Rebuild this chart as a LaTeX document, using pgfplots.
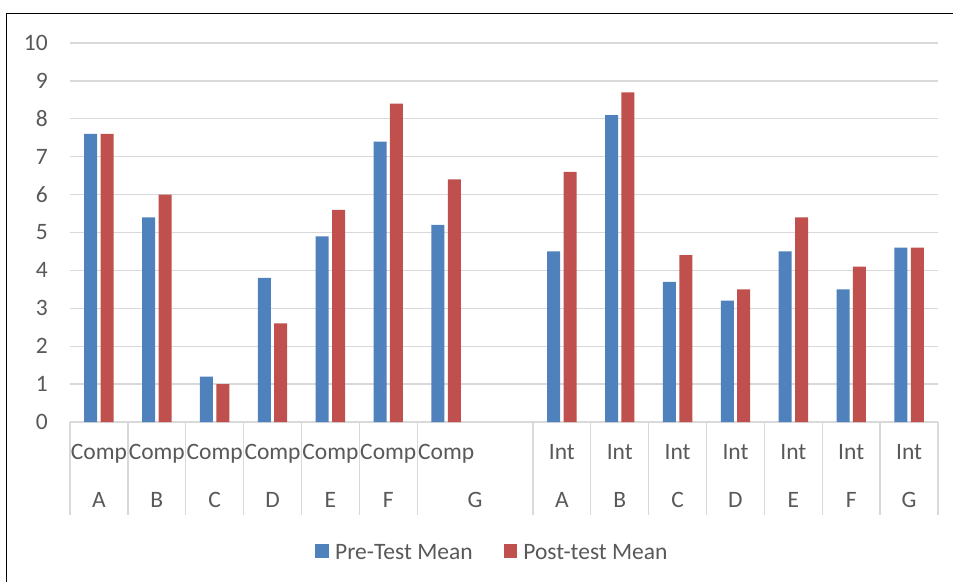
\documentclass[border=0pt]{standalone}
\usepackage{pgfplots}
\pgfplotsset{compat=1.18}
\usepackage{fontspec}
\setmainfont{Carlito}
\definecolor{preblue}{RGB}{79,129,189}
\definecolor{postred}{RGB}{192,80,77}
\definecolor{txt}{RGB}{89,89,89}
\definecolor{gridc}{RGB}{217,217,217}
\begin{document}
\begin{tikzpicture}
\clip (0pt,0pt) rectangle (953pt,581pt);
\fill[white] (0pt,0pt) rectangle (953pt,581pt);
\draw[black, line width=1.7pt] (6.5pt,-5pt) -- (6.5pt,567.5pt) -- (960pt,567.5pt);
\begin{axis}[
  at={(70pt,159pt)}, anchor=south west,
  scale only axis, width=868pt, height=379pt,
  xmin=-0.5, xmax=14.5, ymin=0, ymax=10,
  ybar=3.4pt, bar width=13pt,
  clip=false,
  axis line style={draw=none},
  major tick length=0pt,
  ytick={0,1,...,10},
  ymajorgrids, grid style={gridc, line width=1.3pt},
  xtick={0,1,2,3,4,5,6,8,9,10,11,12,13,14},
  xticklabels={Comp,Comp,Comp,Comp,Comp,Comp,Comp,Int,Int,Int,Int,Int,Int,Int},
  extra x ticks={0,1,2,3,4,5,6.5,8,9,10,11,12,13,14},
  extra x tick labels={A,B,C,D,E,F,G,A,B,C,D,E,F,G},
  extra x tick style={xticklabel style={yshift=-48pt}},
  /pgf/number format/assume math mode=true,
  ticklabel style={font=\fontsize{23.5}{28}\selectfont, text=txt},
  yticklabel style={anchor=east, inner sep=0pt, xshift=-22pt},
  xticklabel style={anchor=base, inner sep=0pt, yshift=-37pt},
  legend style={at={(0.4856,-0.345)}, anchor=center, draw=none, fill=none,
    legend columns=2, font=\fontsize{23.5}{28}\selectfont, text=txt,
    nodes={inner sep=0pt},
    /tikz/every odd column/.append style={column sep=6pt},
    /tikz/every even column/.append style={column sep=31pt}},
  legend image code/.code={\fill[#1] (0pt,-5pt) rectangle (13.7pt,9pt);},
]
\addplot[fill=preblue, draw=none] coordinates {
 (0,7.6) (1,5.4) (2,1.2) (3,3.8) (4,4.9) (5,7.4) (6,5.2)
 (8,4.5) (9,8.1) (10,3.7) (11,3.2) (12,4.5) (13,3.5) (14,4.6)};
\addplot[fill=postred, draw=none] coordinates {
 (0,7.6) (1,6.0) (2,1.0) (3,2.6) (4,5.6) (5,8.4) (6,6.4)
 (8,6.6) (9,8.7) (10,4.4) (11,3.5) (12,5.4) (13,4.1) (14,4.6)};
\legend{Pre-Test Mean, Post-test Mean}
\pgfplotsinvokeforeach{-0.5,0.5,1.5,2.5,3.5,4.5,5.5,7.5,8.5,9.5,10.5,11.5,12.5,13.5,14.5}{
  \draw[gridc, line width=1.3pt] (axis cs:#1,0) -- ++(0pt,-93pt);
}
\end{axis}
\end{tikzpicture}
\end{document}
